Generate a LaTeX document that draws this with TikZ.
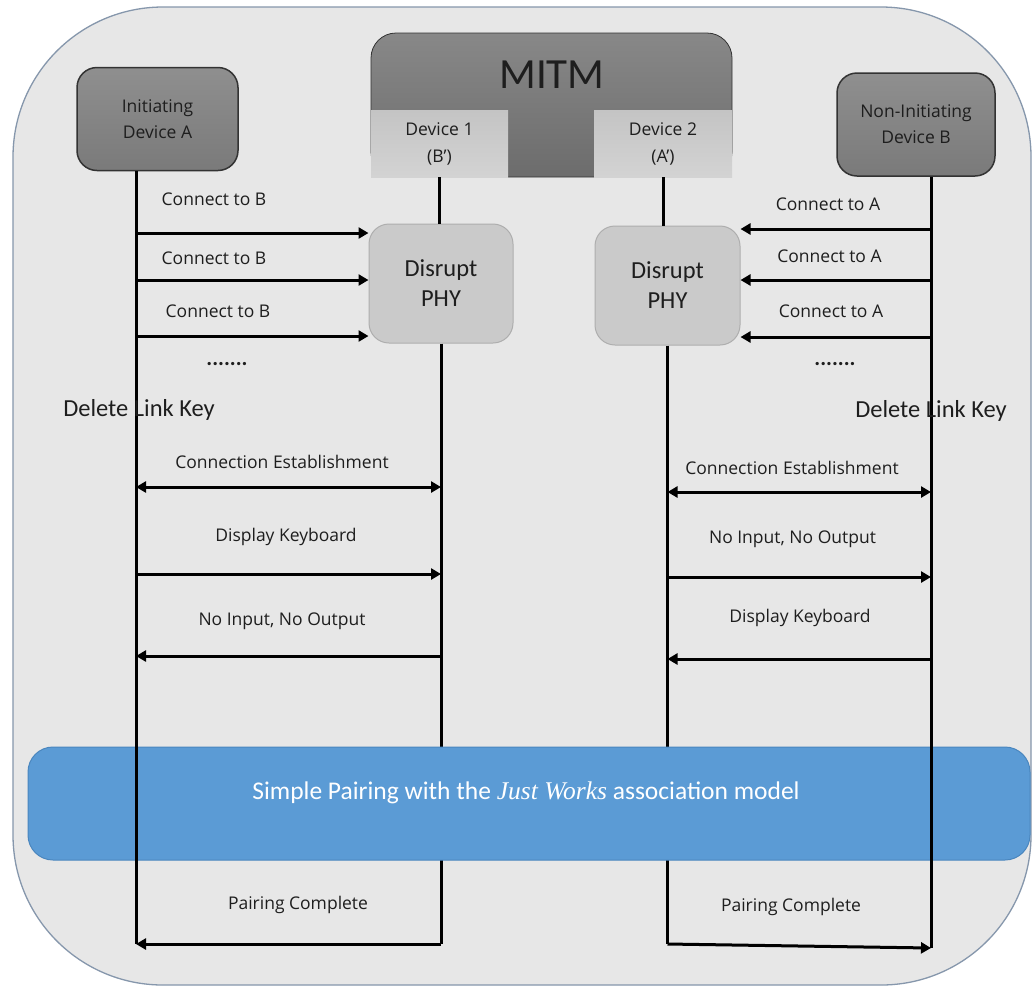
\documentclass[tikz,border=0pt]{standalone}
\usepackage{fontspec}
\setmainfont{Carlito}
\newfontfamily\lab{Open Sans}
\newfontfamily\serifit{Liberation Serif}
\usetikzlibrary{arrows.meta,calc}

\definecolor{bgfill}{HTML}{E7E7E7}
\definecolor{framecol}{HTML}{8697AC}
\definecolor{txt}{HTML}{1E1E1E}
\definecolor{devtop}{HTML}{8F8F8F}
\definecolor{devbot}{HTML}{7A7A7A}
\definecolor{devline}{HTML}{333333}
\definecolor{mitmtop}{HTML}{888888}
\definecolor{mitmbot}{HTML}{6C6C6C}
\definecolor{subtop}{HTML}{C4C4C4}
\definecolor{subbot}{HTML}{D3D3D3}
\definecolor{phyfill}{HTML}{CACACA}
\definecolor{phyline}{HTML}{AEAEAE}
\definecolor{bannerfill}{HTML}{5B9BD5}
\definecolor{bannerline}{HTML}{4A86BE}

\tikzset{
  lifeline/.style={line width=3pt, black},
  msg/.style={line width=3pt, -{Triangle[length=10pt,width=11pt]}},
  msgboth/.style={line width=3pt, {Triangle[length=10pt,width=11pt]}-{Triangle[length=10pt,width=11pt]}},
  lbl/.style={font=\lab\fontsize{17.5}{20}\selectfont, text=txt, inner sep=0pt},
  bigtxt/.style={font=\fontsize{24.5}{30}\selectfont, text=txt, inner sep=0pt, align=center},
  dotrow/.style={font=\bfseries\fontsize{22}{24}\selectfont, text=txt, inner sep=0pt},
  devbox/.style={rounded corners=20pt, draw=devline, line width=1.5pt,
    top color=devtop, bottom color=devbot, align=center, text=txt,
    font=\lab\fontsize{17.5}{26}\selectfont, inner sep=0pt},
  subbox/.style={top color=subtop, bottom color=subbot, align=center, text=txt,
    font=\lab\fontsize{17.5}{27}\selectfont, inner sep=0pt},
  phybox/.style={rounded corners=20pt, draw=phyline, line width=1pt, fill=phyfill,
    align=center, text=txt, font=\fontsize{24.5}{30}\selectfont, inner sep=0pt},
}

\begin{document}
\begin{tikzpicture}[x=1pt, y=-1pt]
\useasboundingbox (0,0) rectangle (1032,989);
\fill[white] (0,0) rectangle (1032,989);

% outer frame
\draw[framecol, fill=bgfill, line width=1.3pt, rounded corners=150pt] (13,7) rectangle (1031,985);

% lifeline end points
\coordinate (aEnd) at (136,944);
\coordinate (bEnd) at (931,948);

% MITM block with its two faces
\node[rounded corners=25pt, draw=devline, line width=0.8pt, top color=mitmtop, bottom color=mitmbot,
      minimum width=361pt, minimum height=144pt, inner sep=0pt] (mitm) at (551.5,105) {};
\node[font=\fontsize{43}{50}\selectfont, text=txt, inner sep=0pt] (mitmlbl) at (552,75) {MITM};
\node[subbox, minimum width=137pt, minimum height=67pt] (dev1) at (439.5,143.5) {Device 1\\(B’)};
\node[subbox, minimum width=138pt, minimum height=67pt] (dev2) at (663,143.5) {Device 2\\(A’)};

% disrupt boxes
\node[phybox, minimum width=144pt, minimum height=119pt] (phy1) at (441,283.5) {Disrupt\\PHY};
\node[phybox, minimum width=145pt, minimum height=119pt] (phy2) at (667.5,285.5) {Disrupt\\PHY};

% middle lifelines (behind the banner)
\coordinate (d1End) at (phy1.south |- aEnd);
\coordinate (d2End) at (phy2.south |- aEnd);
\draw[lifeline] (dev1.south) -- (dev1.south |- phy1.north);
\draw[lifeline] (dev2.south) -- (dev2.south |- phy2.north);
\draw[lifeline] (phy1.south) -- (d1End);
\draw[lifeline] (phy2.south) -- (d2End);

% banner
\node[rounded corners=25pt, draw=bannerline, line width=1pt, fill=bannerfill,
      minimum width=1002pt, minimum height=113pt, inner sep=0pt] (banner) at (529,803.5) {};
\node[text=white, font=\fontsize{25.5}{30}\selectfont, inner sep=0pt] (bannerlbl) at (526,793)
  {Simple Pairing with the {\serifit\itshape Just Works} association model};

% end devices
\node[devbox, minimum width=161pt, minimum height=103pt] (devA) at (157.5,119) {Initiating\\Device A};
\node[devbox, minimum width=158pt, minimum height=103pt] (devB) at (916,124.5) {Non-Initiating\\Device B};

% outer lifelines (over the banner)
\draw[lifeline] (devA.south -| aEnd) -- (aEnd);
\draw[lifeline] (devB.south -| bEnd) -- (bEnd);

% repeated connection attempts, A side
\coordinate (a1) at (136,233);
\coordinate (a2) at (136,280);
\coordinate (a3) at (136,336);
\draw[msg] (a1) -- (a1 -| phy1.west);
\draw[msg] (a2) -- (a2 -| phy1.west);
\draw[msg] (a3) -- (a3 -| phy1.west);
\node[lbl] (ca1) at (214,199) {Connect to B};
\node[lbl] (ca2) at (214,258) {Connect to B};
\node[lbl] (ca3) at (218,311) {Connect to B};
\node[dotrow] (dotsA) at (227,364) {.......};

% repeated connection attempts, B side
\coordinate (b1) at (931,229);
\coordinate (b2) at (931,280);
\coordinate (b3) at (931,337);
\draw[msg] (b1) -- (b1 -| phy2.east);
\draw[msg] (b2) -- (b2 -| phy2.east);
\draw[msg] (b3) -- (b3 -| phy2.east);
\node[lbl] (cb1) at (828,204) {Connect to A};
\node[lbl] (cb2) at (829.5,256) {Connect to A};
\node[lbl] (cb3) at (831,311) {Connect to A};
\node[dotrow] (dotsB) at (835,364) {.......};

% link keys removed
\node[bigtxt] (delA) at (139,410) {Delete Link Key};
\node[bigtxt] (delB) at (931,411) {Delete Link Key};

% A <-> Device 1 exchange
\coordinate (m1) at (136,487);
\coordinate (m2) at (136,574);
\coordinate (m3) at (136,656);
\draw[msgboth] (m1) -- (m1 -| d1End);
\draw[msg] (m2) -- (m2 -| d1End);
\draw[msg] (m3 -| d1End) -- (m3);
\node[lbl] (ceA) at (282,462) {Connection Establishment};
\node[lbl] (dkA) at (286,537) {Display Keyboard};
\node[lbl] (nioA) at (282,621) {No Input, No Output};

% Device 2 <-> B exchange
\coordinate (n1) at (931,492);
\coordinate (n2) at (931,577);
\coordinate (n3) at (931,659);
\draw[msgboth] (n1 -| d2End) -- (n1);
\draw[msg] (n2 -| d2End) -- (n2);
\draw[msg] (n3) -- (n3 -| d2End);
\node[lbl] (ceB) at (792,468) {Connection Establishment};
\node[lbl] (nioB) at (792.5,539) {No Input, No Output};
\node[lbl] (dkB) at (800,618) {Display Keyboard};

% pairing complete
\draw[msg] (d1End) -- (aEnd);
\draw[msg] (d2End) -- (bEnd);
\node[lbl] (pcA) at (298,905) {Pairing Complete};
\node[lbl] (pcB) at (791,907) {Pairing Complete};
\end{tikzpicture}
\end{document}
